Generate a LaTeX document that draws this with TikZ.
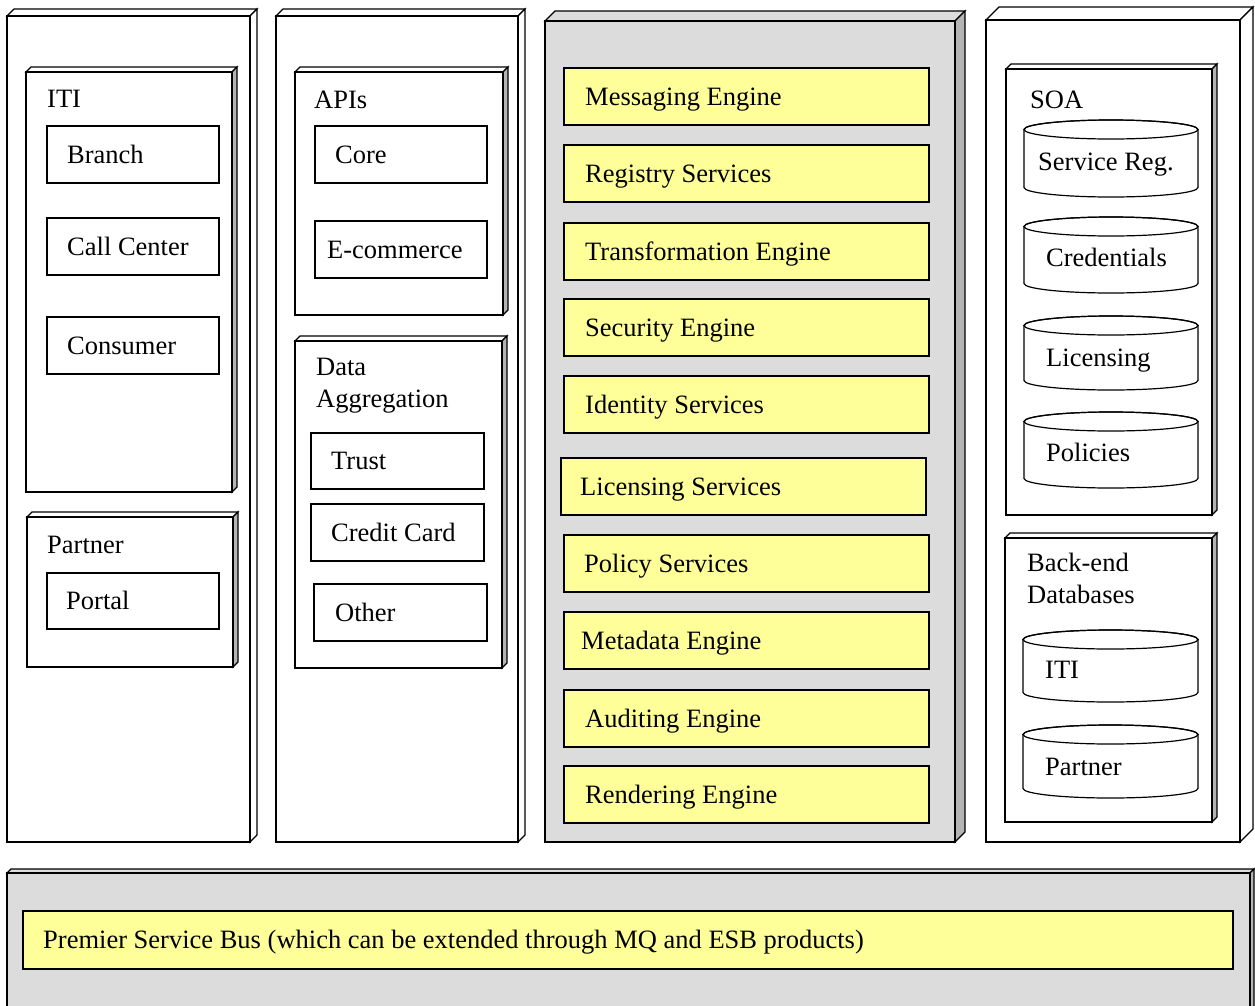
\documentclass[tikz,border=0pt]{standalone}
\usepackage{fontspec}
\setmainfont{Liberation Serif}
\usetikzlibrary{positioning}
\usetikzlibrary{shadows}

\definecolor{panelgray}{RGB}{220,220,220}
\definecolor{sidegray}{RGB}{180,180,180}
\definecolor{svcyellow}{RGB}{255,255,153}

\tikzset{
  edge/.style={draw=black, line width=1.2pt, line join=miter},
  item/.style={draw=black, line width=1.6pt, fill=white, anchor=north west, inner sep=0pt,
    minimum width=172pt, minimum height=57pt,
    drop shadow={shadow xshift=1.5pt, shadow yshift=-1.5pt, fill=black, opacity=1}},
  svc/.style={item, fill=svcyellow, minimum width=365pt},
  txt/.style={anchor=west, inner sep=0pt, text height=17.5pt, text depth=0pt,
    font=\fontsize{26.5}{32}\selectfont},
  head/.style={anchor=base west, inner sep=0pt, align=left,
    font=\fontsize{26.5}{32}\selectfont},
}

% x1 y1 x2 y2 depth front top side
\newcommand{\slab}[8]{%
  \draw[edge, fill=#7] (#1,#2) -- ({#1+#5},{#2-#5}) -- ({#3+#5},{#2-#5}) -- (#3,#2) -- cycle;
  \draw[edge, fill=#8] (#3,#2) -- ({#3+#5},{#2-#5}) -- ({#3+#5},{#4-#5}) -- (#3,#4) -- cycle;
  \draw[edge, fill=#6] (#1,#2) rectangle (#3,#4);
}
% x1 y1 x2 y2
\newcommand{\drum}[4]{%
  \draw[edge, fill=white] (#1,{#2+9.5}) -- (#1,{#4-9.5})
    arc[start angle=180, end angle=0, x radius={(#3-#1)/2}, y radius=9.5]
    -- (#3,{#2+9.5})
    arc[start angle=0, end angle=-180, x radius={(#3-#1)/2}, y radius=9.5] -- cycle;
  \draw[edge] ({(#1+#3)/2},{#2+9.5}) ellipse[x radius={(#3-#1)/2}, y radius=9.5];
}

\begin{document}
\begin{tikzpicture}[x=1pt, y=-1pt]
\useasboundingbox (0,0) rectangle (1255,1005);

% channels
\slab{7}{16}{250}{842}{7}{white}{white}{white}
\slab{26}{72}{232}{492}{5}{white}{white}{sidegray}
\node[head] (iti) at (47,107) {ITI};
\node[item] (branch) at (46,125) {};
\node[txt, right=21pt of branch.west] (branch-t) {Branch};
\node[item] (callcenter) at (46,217) {};
\node[txt, right=21pt of callcenter.west] (callcenter-t) {Call Center};
\node[item] (consumer) at (46,316) {};
\node[txt, right=21pt of consumer.west] (consumer-t) {Consumer};
\slab{27}{517}{233}{667}{5}{white}{white}{sidegray}
\node[head] (partner) at (47,553) {Partner};
\node[item, minimum height=56pt] (portal) at (46,572) {};
\node[txt, right=20pt of portal.west] (portal-t) {Portal};

% applications
\slab{276}{16}{518}{842}{7}{white}{white}{white}
\slab{295}{72}{503}{315}{5}{white}{white}{sidegray}
\node[head] (apis) at (314,108) {APIs};
\node[item] (core) at (314,125) {};
\node[txt, right=21pt of core.west] (core-t) {Core};
\node[item] (ecommerce) at (314,220) {};
\node[txt, right=13pt of ecommerce.west] (ecommerce-t) {E-commerce};
\slab{295}{341}{502}{668}{5}{white}{white}{sidegray}
\node[head] (dataagg) at (316,407) {Data\\Aggregation};
\node[item, minimum width=173pt, minimum height=56pt] (trust) at (310,432) {};
\node[txt, right=21pt of trust.west] (trust-t) {Trust};
\node[item, minimum width=173pt] (creditcard) at (310,503) {};
\node[txt, right=21pt of creditcard.west] (creditcard-t) {Credit Card};
\node[item, minimum width=173pt] (other) at (313,583) {};
\node[txt, right=22pt of other.west] (other-t) {Other};

% services
\slab{545}{21}{955}{842}{10}{panelgray}{panelgray}{sidegray}
\node[svc] (messaging) at (563,67) {};
\node[txt, right=22pt of messaging.west] (messaging-t) {Messaging Engine};
\node[svc] (registry) at (563,144) {};
\node[txt, right=22pt of registry.west] (registry-t) {Registry Services};
\node[svc] (transform) at (563,222) {};
\node[txt, right=22pt of transform.west] (transform-t) {Transformation Engine};
\node[svc] (security) at (563,298) {};
\node[txt, right=22pt of security.west] (security-t) {Security Engine};
\node[svc] (identity) at (563,375) {};
\node[txt, right=22pt of identity.west] (identity-t) {Identity Services};
\node[svc, minimum height=57pt] (licensing) at (560,457) {};
\node[txt, right=20pt of licensing.west] (licensing-t) {Licensing Services};
\node[svc] (policy) at (563,534) {};
\node[txt, right=21pt of policy.west] (policy-t) {Policy Services};
\node[svc] (metadata) at (563,611) {};
\node[txt, right=18pt of metadata.west] (metadata-t) {Metadata Engine};
\node[svc] (auditing) at (563,689) {};
\node[txt, right=22pt of auditing.west] (auditing-t) {Auditing Engine};
\node[svc] (rendering) at (563,765) {};
\node[txt, right=22pt of rendering.west] (rendering-t) {Rendering Engine};

% data stores
\slab{986}{20}{1240}{842}{13}{white}{white}{white}
\slab{1006}{69}{1212}{515}{5}{white}{white}{sidegray}
\node[head] (soa) at (1030,108) {SOA};
\drum{1024}{120}{1198}{197}
\node[head] (servicereg) at (1038,170) {Service Reg.};
\drum{1024}{217}{1198}{293}
\node[head] (credentials) at (1046,266) {Credentials};
\drum{1024}{316}{1198}{390}
\node[head] (licensingdb) at (1046,366) {Licensing};
\drum{1024}{412}{1198}{488}
\node[head] (policies) at (1046,461) {Policies};
\slab{1005}{538}{1212}{822}{5}{white}{white}{sidegray}
\node[head] (backend) at (1027,603) {Back-end\\Databases};
\drum{1023}{630}{1198}{702}
\node[head] (itidb) at (1045,678) {ITI};
\drum{1023}{725}{1198}{798}
\node[head] (partnerdb) at (1045,775) {Partner};

% bus
\slab{7}{873}{1250}{1015}{4}{panelgray}{panelgray}{sidegray}
\node[svc, minimum width=1210pt, minimum height=58pt] (bus) at (22,910) {};
\node[txt, right=21pt of bus.west] (bus-t)
  {Premier Service Bus (which can be extended through MQ and ESB products)};
\end{tikzpicture}
\end{document}
